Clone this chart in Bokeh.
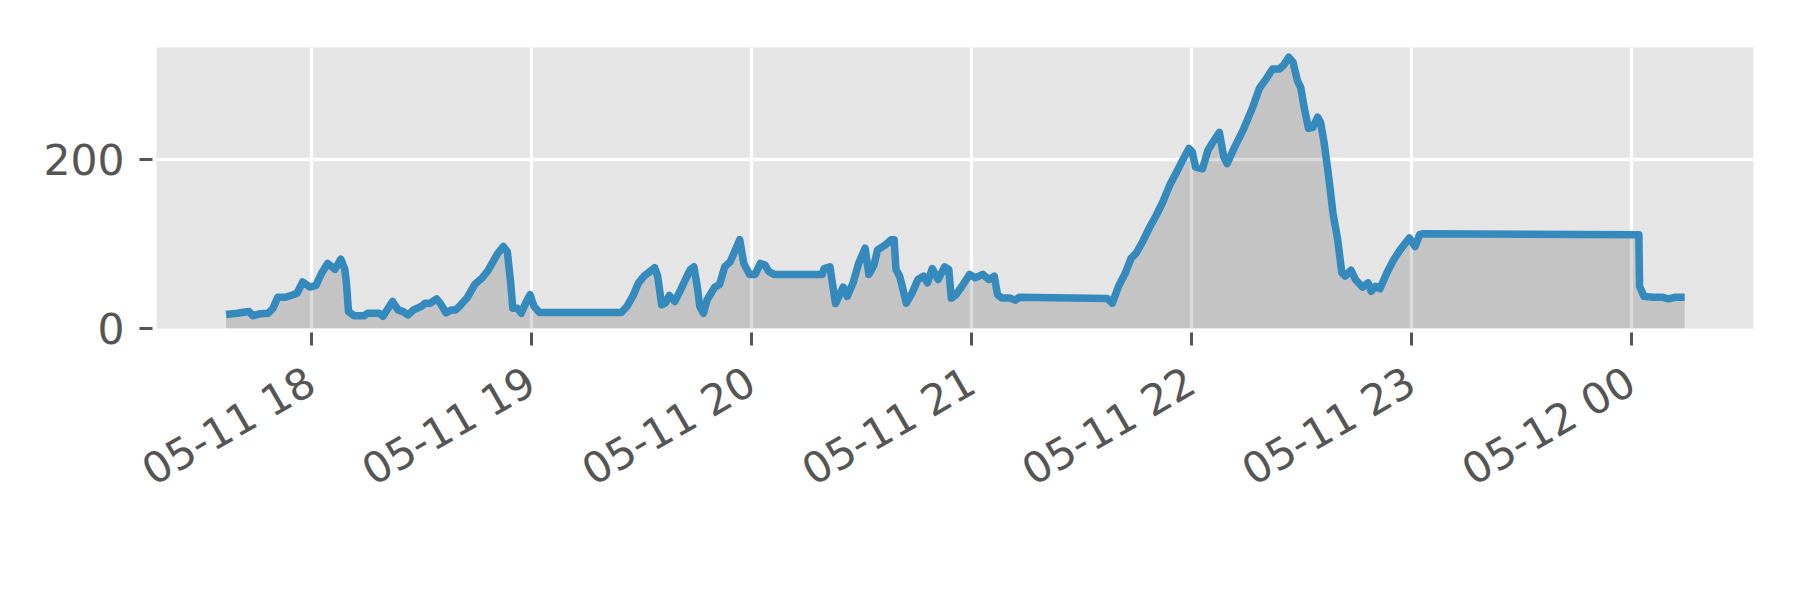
import math
from datetime import datetime, timedelta
from bokeh.plotting import figure
from bokeh.models import Range1d, FixedTicker, DatetimeTickFormatter, ColumnDataSource
from bokeh.embed import file_html
from bokeh.resources import INLINE

# ---- data ----
start = datetime(2019, 5, 11, 17, 0)
# minutes after 05-11 17:00
minutes = [36.7, 39.8, 41.9, 43.0, 44.0, 46.1, 48.2, 49.5, 50.8, 52.9, 55.0, 56.1, 57.6, 59.6,
           61.2, 62.7, 64.4, 66.4, 68.0, 69.1, 69.5, 70.1, 71.6, 74.3, 75.3, 78.4, 79.5, 82.1,
           83.6, 85.0, 86.3, 87.8, 89.9, 91.0, 92.4, 94.1, 95.1, 96.7, 98.1, 99.3, 100.3, 102.4,
           104.5, 106.6, 108.2, 110.8, 112.3, 113.4, 114.3, 114.9, 116.1, 117.2, 118.6, 119.6,
           120.7, 122.2, 144.5, 146.0, 147.6, 149.2, 150.8, 152.3, 153.6, 154.4, 155.5, 156.5,
           157.6, 159.1, 160.7, 162.2, 163.3, 164.3, 165.2, 165.9, 166.9, 167.9, 169.0, 170.0,
           171.3, 172.7, 174.2, 175.8, 176.8, 177.9, 179.5, 181.0, 182.4, 183.7, 184.7, 186.2,
           199.3, 199.8, 201.4, 202.9, 205.0, 206.1, 207.7, 209.2, 211.0, 212.0, 213.4, 214.4,
           216.5, 218.1, 218.9, 219.4, 220.4, 221.0, 222.2, 223.8, 225.4, 226.9, 228.0, 229.3,
           230.9, 232.7, 233.8, 234.5, 235.8, 237.4, 239.5, 241.0, 243.1, 244.7, 246.2, 247.1,
           248.3, 250.4, 252.0, 253.0, 277.0, 278.4, 280.1, 281.9, 283.5, 284.9, 286.7, 288.6,
           290.4, 292.2, 294.1, 295.9, 297.8, 299.3, 300.2, 301.1, 303.0, 304.5, 305.9, 307.6,
           308.8, 309.7, 311.8, 314.2, 316.7, 318.5, 320.3, 322.1, 324.0, 325.2, 326.5, 327.7,
           328.9, 329.8, 330.7, 331.9, 333.1, 334.4, 335.2, 336.2, 337.4, 338.6, 339.8, 341.0,
           341.9, 343.5, 344.7, 346.6, 348.2, 349.0, 350.2, 351.4, 353.3, 355.1, 356.9, 359.4,
           361.0, 362.2, 363.0, 422.0, 422.2, 423.4, 425.9, 428.3, 430.1, 432.0, 434.5]
values = [16.5, 18, 19.5, 20, 15, 17.5, 18, 24, 37, 37, 40, 42, 55, 49,
          51, 65, 77, 70, 82, 70, 55, 20, 15, 15, 18, 18, 14.5, 32,
          22, 20, 16, 22, 26, 30, 30, 35, 30, 18.5, 22, 22, 26, 36,
          52, 60, 69, 89, 97, 91, 55, 24, 24, 18, 32, 40,
          26, 19, 19, 26, 38, 54, 62.5, 67.5, 72, 62, 28, 30,
          39, 32, 46, 60, 69.5, 73, 50, 26, 18, 34, 42, 49,
          52, 73, 79, 95, 105, 77, 64, 64, 77, 75, 67.5, 64,
          64, 71, 73, 29.5, 49, 38, 54, 77, 95, 64, 75, 93,
          99, 105, 105, 70, 62, 52, 30, 42, 58, 62, 54, 71,
          58, 73, 70, 36, 40, 50, 64, 60, 64, 58, 62, 40,
          36, 36, 33.5, 37, 35.5, 30, 50, 65, 83, 89, 103, 120,
          134, 150, 170, 185, 201, 213, 209, 191, 189, 211, 221, 232,
          203, 195, 215, 236, 262, 284, 295, 307, 307, 312, 321, 315,
          293, 285, 262, 237, 238, 250, 244, 219, 180, 136, 107, 66,
          62, 69, 58, 49, 54, 44, 50, 47, 66, 81, 93, 107,
          97, 111, 112, 111, 50, 38, 37, 37, 35, 37, 37]
tick_hours = [18, 19, 20, 21, 22, 23, 24]
y_ticks = [0, 200]

times = [start + timedelta(minutes=m) for m in minutes]
src = ColumnDataSource(dict(t=times, v=values))


def to_ms(dt):
    return (dt - datetime(1970, 1, 1)).total_seconds() * 1000.0


x0 = start + timedelta(hours=0.2955)
x1 = start + timedelta(hours=7.5545)

p = figure(width=1784, height=584, x_axis_type="datetime",
           x_range=Range1d(x0, x1), y_range=Range1d(0, 332.5),
           output_backend="svg", toolbar_location=None,
           min_border_left=156, min_border_right=31,
           min_border_top=47, min_border_bottom=256)

p.background_fill_color = "#E5E5E5"
p.border_fill_color = "white"
p.outline_line_color = None

p.varea(x="t", y1=0, y2="v", source=src, fill_color="black", fill_alpha=0.14)
p.line(x="t", y="v", source=src, line_color="#348ABD", line_width=7.5, line_join="round")

xt = FixedTicker(ticks=[to_ms(start + timedelta(hours=h - 17)) for h in tick_hours])
p.xaxis.ticker = xt
p.xgrid.ticker = xt
yt = FixedTicker(ticks=y_ticks)
p.yaxis.ticker = yt
p.ygrid.ticker = yt

fmt = "%m-%d %H"
p.xaxis.formatter = DatetimeTickFormatter(
    microseconds=fmt, milliseconds=fmt, seconds=fmt, minsec=fmt, minutes=fmt,
    hourmin=fmt, hours=fmt, days=fmt, months=fmt, years=fmt,
    strip_leading_zeros=False)

for g in (p.xgrid, p.ygrid):
    g.grid_line_color = "white"
    g.grid_line_width = 3.3

for ax in p.axis:
    ax.axis_line_color = None
    ax.major_tick_line_color = "#555555"
    ax.major_tick_line_width = 3
    ax.major_tick_in = -4
    ax.major_tick_out = 17
    ax.minor_tick_line_color = None
    ax.major_label_text_color = "#555555"
    ax.major_label_text_font = "DejaVu Sans"
    ax.major_label_text_font_size = "42.5px"

p.xaxis.major_label_orientation = math.pi / 6
p.xaxis.major_label_standoff = 33
p.yaxis.major_label_standoff = 15

open("out.html", "w").write(file_html(p, INLINE))
